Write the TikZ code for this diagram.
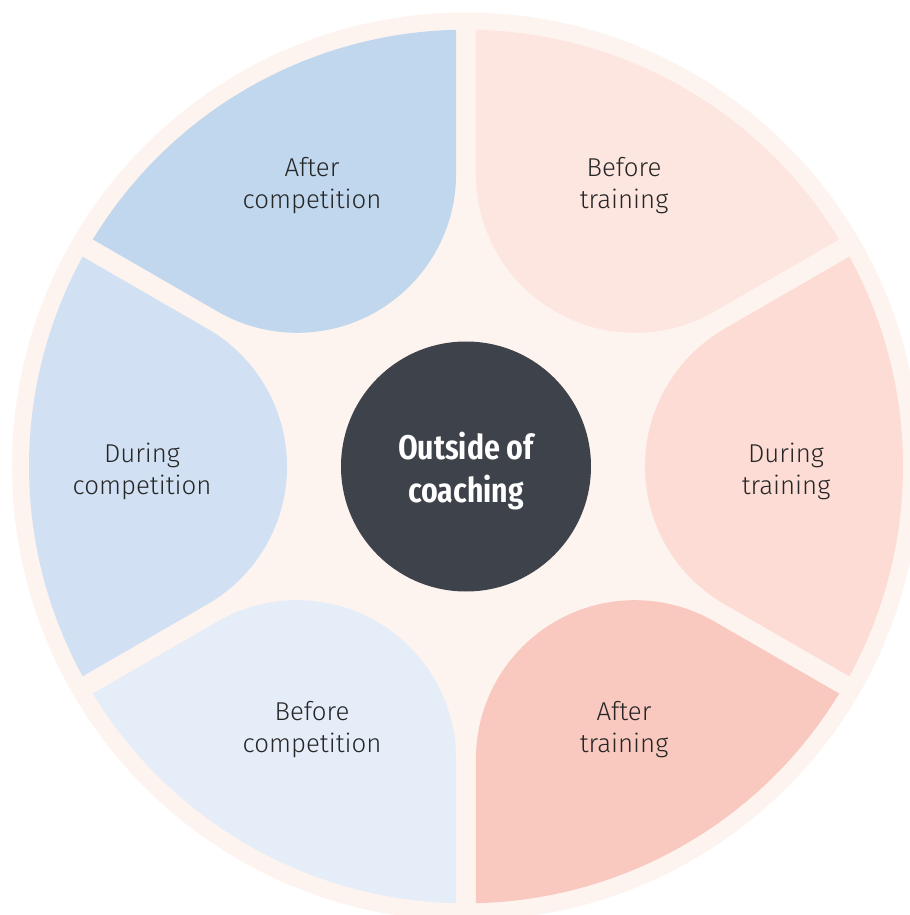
\documentclass[tikz,border=0pt]{standalone}
\usepackage{fontspec}
\setmainfont{Fira Sans Light}
\newfontfamily\hubfont{Fira Sans Extra Condensed SemiBold}
\usepackage{tikz}

\definecolor{ringbg}{HTML}{FDF3EF}
\definecolor{aftercomp}{HTML}{C0D7EE}
\definecolor{duringcomp}{HTML}{D1E1F3}
\definecolor{beforecomp}{HTML}{E5EEF8}
\definecolor{beforetrain}{HTML}{FDE5E0}
\definecolor{duringtrain}{HTML}{FCDCD4}
\definecolor{aftertrain}{HTML}{F9C9BF}
\definecolor{hubfill}{HTML}{3E424B}
\definecolor{labeltext}{HTML}{262626}

\tikzset{
  petallabel/.style={align=center, text=labeltext, font=\fontsize{14.7}{18.2}\selectfont},
  hublabel/.style={align=center, text=white, font=\hubfont\fontsize{19.5}{24.5}\selectfont}
}

\begin{document}
\begin{tikzpicture}[scale=0.02]
  \useasboundingbox (-466,-448.5) rectangle (443,466.5);
  \fill[ringbg] (0,0) circle[radius=454];
  \fill[beforetrain, rotate=60] (258.5,137.7) -- (383.35,209.78) arc[start angle=28.69, end angle=-28.69, radius=437] -- (258.5,-137.7) arc[start angle=-120, end angle=-240, radius=159] -- cycle;
  \fill[duringtrain, rotate=0] (258.5,137.7) -- (383.35,209.78) arc[start angle=28.69, end angle=-28.69, radius=437] -- (258.5,-137.7) arc[start angle=-120, end angle=-240, radius=159] -- cycle;
  \fill[aftertrain, rotate=-60] (258.5,137.7) -- (383.35,209.78) arc[start angle=28.69, end angle=-28.69, radius=437] -- (258.5,-137.7) arc[start angle=-120, end angle=-240, radius=159] -- cycle;
  \fill[beforecomp, rotate=-120] (258.5,137.7) -- (383.35,209.78) arc[start angle=28.69, end angle=-28.69, radius=437] -- (258.5,-137.7) arc[start angle=-120, end angle=-240, radius=159] -- cycle;
  \fill[duringcomp, rotate=180] (258.5,137.7) -- (383.35,209.78) arc[start angle=28.69, end angle=-28.69, radius=437] -- (258.5,-137.7) arc[start angle=-120, end angle=-240, radius=159] -- cycle;
  \fill[aftercomp, rotate=120] (258.5,137.7) -- (383.35,209.78) arc[start angle=28.69, end angle=-28.69, radius=437] -- (258.5,-137.7) arc[start angle=-120, end angle=-240, radius=159] -- cycle;
  \fill[hubfill] (0,0) circle[radius=125];
  \node[hublabel] (hub) at (0,-5) {Outside of\\coaching};
  \node[petallabel] (beforetraining) at (158,281) {Before\\training};
  \node[petallabel] (duringtraining) at (320,-5) {During\\training};
  \node[petallabel] (aftertraining) at (158,-263) {After\\training};
  \node[petallabel] (beforecompetition) at (-154,-263) {Before\\competition};
  \node[petallabel] (duringcompetition) at (-324,-5) {During\\competition};
  \node[petallabel] (aftercompetition) at (-154,281) {After\\competition};
\end{tikzpicture}
\end{document}
